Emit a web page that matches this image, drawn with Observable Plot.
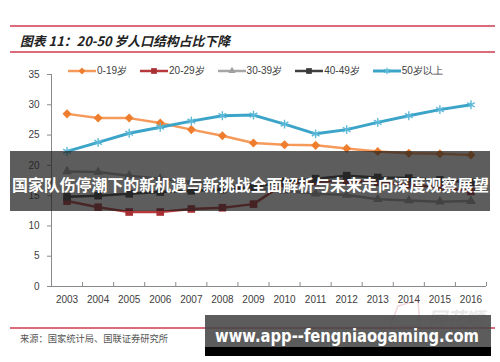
<!DOCTYPE html>
<html><head><meta charset="utf-8">
<script src="https://cdn.jsdelivr.net/npm/d3@7"></script>
<script src="https://cdn.jsdelivr.net/npm/@observablehq/plot@0.6"></script>
<style>
html,body{margin:0;padding:0;background:#fff;}
#wrap{position:relative;width:500px;height:362px;overflow:hidden;font-family:"Liberation Sans",Arial,sans-serif;}
#wrap > svg, #wrap > div{position:absolute;left:0;top:0;}
#legend{top:64px !important;left:68px !important;display:flex;gap:13px;font-size:10px;color:#404040;align-items:center;}
#legend .item{display:flex;align-items:center;gap:1px;}
</style></head><body><div id="wrap"></div>
<script>
// ---- data ----
const years = [2003, 2004, 2005, 2006, 2007, 2008, 2009, 2010, 2011, 2012, 2013, 2014, 2015, 2016];
const seriesNames = ["0-19岁", "20-29岁", "30-39岁", "40-49岁", "50岁以上"];
const age0_19  = [28.5, 27.8, 27.8, 27.0, 25.9, 24.9, 23.7, 23.4, 23.3, 22.8, 22.3, 22.0, 21.9, 21.7];
const age20_29 = [14.1, 13.1, 12.3, 12.3, 12.8, 13.0, 13.6, 17.0, 17.3, 17.4, 17.2, 16.8, 16.4, 15.7];
const age30_39 = [19.0, 18.9, 18.3, 17.8, 17.3, 16.8, 16.3, 15.8, 15.3, 15.1, 14.4, 14.2, 14.0, 14.1];
const age40_49 = [14.8, 15.0, 15.3, 15.6, 15.8, 16.0, 16.4, 17.3, 17.8, 18.3, 18.0, 17.9, 17.6, 17.2];
const age50up  = [22.3, 23.8, 25.3, 26.3, 27.3, 28.2, 28.3, 26.8, 25.2, 25.9, 27.1, 28.2, 29.2, 30.0];
const yTicks = [0, 5, 10, 15, 20, 25, 30, 35];
const titleText = "图表 11：20-50 岁人口结构占比下降";
const sourceText = "来源：国家统计局、国联证券研究所";
const bannerText = "国家队伤停潮下的新机遇与新挑战全面解析与未来走向深度观察展望";
const watermarkText = "www.app--fengniaogaming.com";
const logoText = "同花顺";

// ---- styles ----
const seriesValues = [age0_19, age20_29, age30_39, age40_49, age50up];
const styles = [
  {line: "#F59A5A", mark: "#EE7E2E", symbol: "square", rotate: 45, r: 3.6, width: 2.5},
  {line: "#B8393C", mark: "#A83034", symbol: "square", rotate: 0, r: 4.3, width: 2.5},
  {line: "#A6A6A6", mark: "#A0A0A0", symbol: "triangle", rotate: 0, r: 3.6, width: 2.5},
  {line: "#404040", mark: "#3A3A3A", symbol: "square", rotate: 0, r: 4.3, width: 2.5},
  {line: "#3CA4C8", mark: "#5DB9D8", symbol: "asterisk", rotate: 0, r: 4.2, width: 3}
];

const series = seriesNames.map((name, k) => ({
  name, style: styles[k],
  rows: years.map((year, i) => ({year, value: seriesValues[k][i], series: name}))
}));

const x0 = years[0] - 0.5, x1 = years[years.length - 1] + 0.5;
const boundaries = [...years.map(y => y - 0.5), x1];
const axisColor = "#8a8a8a";

const marks = [
  Plot.axisY({ticks: yTicks, tickSize: 4, tickPadding: 8, stroke: axisColor, fill: "#404040", label: null}),
  Plot.axisX({ticks: years, tickSize: 0, tickPadding: 9, tickFormat: d => String(d), fill: "#404040", label: null}),
  Plot.ruleX([x0], {stroke: axisColor}),
  Plot.ruleY([0], {stroke: axisColor}),
  Plot.ruleX(boundaries, {y1: 0, insetTop: -4, stroke: axisColor})
];
for (const s of series) {
  marks.push(Plot.line(s.rows, {x: "year", y: "value", stroke: s.style.line, strokeWidth: s.style.width}));
}
for (const s of series) {
  const st = s.style;
  if (st.symbol === "asterisk") {
    marks.push(Plot.dot(s.rows, {x: "year", y: "value", symbol: "asterisk", r: st.r, stroke: st.mark, strokeWidth: 1.4, fill: "none"}));
  } else {
    marks.push(Plot.dot(s.rows, {x: "year", y: "value", symbol: st.symbol, rotate: st.rotate, r: st.r, fill: st.mark, stroke: "none"}));
  }
}

const chart = Plot.plot({
  width: 500, height: 362,
  marginLeft: 51, marginRight: 14, marginTop: 74, marginBottom: 76,
  x: {domain: [x0, x1], label: null},
  y: {domain: [0, 35], label: null},
  style: {fontFamily: "'Liberation Sans', Arial, sans-serif", fontSize: "10px", background: "transparent", color: "#404040"},
  marks
});
const wrap = document.getElementById("wrap");

// ---- header / footer decorations (behind plot) ----
const NS = "http://www.w3.org/2000/svg";
function svgEl(tag, attrs, parent) {
  const e = document.createElementNS(NS, tag);
  for (const k in attrs) e.setAttribute(k, attrs[k]);
  if (parent) parent.appendChild(e);
  return e;
}
const back = svgEl("svg", {width: 500, height: 362});
const red = "#CF3A4E";
svgEl("line", {x1: 10, x2: 495, y1: 26, y2: 26, stroke: red, "stroke-width": 1.3}, back);
svgEl("line", {x1: 10, x2: 495, y1: 52, y2: 52, stroke: red, "stroke-width": 1.3}, back);
svgEl("line", {x1: 10, x2: 495, y1: 328, y2: 328, stroke: red, "stroke-width": 1.3}, back);
const t = svgEl("text", {x: 20, y: 45.5, "font-family": "'Noto Sans CJK SC', sans-serif", "font-size": 13, "font-weight": "bold", "font-style": "italic", fill: "#222", textLength: 210, lengthAdjust: "spacingAndGlyphs"}, back);
t.textContent = titleText;
const src = svgEl("text", {x: 20, y: 341.5, "font-family": "'Noto Sans CJK SC', sans-serif", "font-size": 9.5, fill: "#555", textLength: 148, lengthAdjust: "spacingAndGlyphs"}, back);
src.textContent = sourceText;
const logo = svgEl("text", {x: 428, y: 325, "font-family": "'Noto Sans CJK SC', sans-serif", "font-size": 18, "font-weight": "bold", "font-style": "italic", fill: "#e8e8e8", textLength: 56, lengthAdjust: "spacingAndGlyphs"}, back);
logo.textContent = logoText;
svgEl("path", {d: "M390 326 L398 306 L418 300 L420 326 Z", fill: "none", stroke: "#f2d6da", "stroke-width": 1.5}, back);
wrap.appendChild(back);
wrap.appendChild(chart);

// ---- legend ----
const legend = document.createElement("div");
legend.id = "legend";
for (const s of series) {
  const item = document.createElement("div");
  item.className = "item";
  const sw = svgEl("svg", {width: 28, height: 10});
  svgEl("line", {x1: 0, x2: 28, y1: 5, y2: 5, stroke: s.style.line, "stroke-width": s.style.width}, sw);
  const symMap = {square: d3.symbolSquare, triangle: d3.symbolTriangle, asterisk: d3.symbolAsterisk};
  const size = Math.PI * (s.style.r * 0.75) ** 2;
  const p = svgEl("path", {d: d3.symbol(symMap[s.style.symbol], size)(), transform: `translate(14,5) rotate(${s.style.rotate})`}, sw);
  if (s.style.symbol === "asterisk") { p.setAttribute("fill", "none"); p.setAttribute("stroke", s.style.mark); p.setAttribute("stroke-width", 1.2); }
  else p.setAttribute("fill", s.style.mark);
  item.appendChild(sw);
  const lab = document.createElement("span");
  lab.textContent = s.name;
  item.appendChild(lab);
  legend.appendChild(item);
}
wrap.appendChild(legend);

// ---- overlays (banner and watermark) ----
const front = svgEl("svg", {width: 500, height: 362});
svgEl("rect", {x: 10, y: 151, width: 480, height: 60, fill: "rgba(30,30,30,0.72)"}, front);
const bt = svgEl("text", {x: 12, y: 190.5, "font-family": "'Noto Sans CJK SC', sans-serif", "font-size": 15.5, "font-weight": "bold", fill: "#fff", textLength: 477, lengthAdjust: "spacingAndGlyphs"}, front);
bt.textContent = bannerText;
svgEl("rect", {x: 205, y: 315, width: 286, height: 32, fill: "rgba(70,70,70,0.88)"}, front);
svgEl("rect", {x: 205, y: 347, width: 286, height: 9, fill: "#000"}, front);
const wt = svgEl("text", {x: 215, y: 342, "font-family": "'DejaVu Sans', sans-serif", "font-size": 17, "font-weight": "bold", fill: "#fff", textLength: 264, lengthAdjust: "spacingAndGlyphs"}, front);
wt.textContent = watermarkText;
wrap.appendChild(front);
</script></body></html>
